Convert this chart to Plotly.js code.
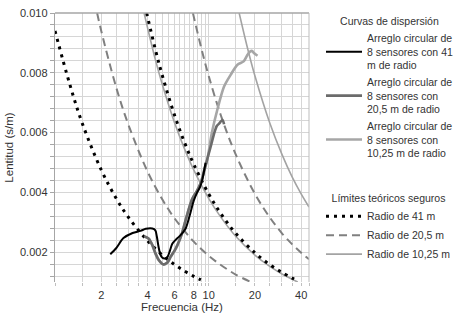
<!DOCTYPE html>
<html>
<head>
<meta charset="utf-8">
<script src="https://cdn.plot.ly/plotly-3.0.1.min.js"></script>
<style>html,body{margin:0;padding:0;background:#fff;}#chart{width:469px;height:318px;}</style>
</head>
<body>
<div id="chart"></div>
<script>
// Measured dispersion curves
const f41 = [2.29, 2.5, 2.79, 3.2, 3.6, 3.9, 4.3, 4.5, 4.6, 4.72, 4.85, 5.0, 5.2, 5.4, 5.6, 5.8, 6.1, 6.4, 6.8, 7.1, 7.6, 8.0, 8.4, 8.8, 9.1, 9.55];
const s41 = [0.00193, 0.00213, 0.00247, 0.00264, 0.00271, 0.00278, 0.00279, 0.00273, 0.00252, 0.00218, 0.00192, 0.00181, 0.00179, 0.00184, 0.00205, 0.00228, 0.00241, 0.00251, 0.00266, 0.0028, 0.0033, 0.00372, 0.00398, 0.00418, 0.00443, 0.00499];

const f205 = [3.8, 4.05, 4.3, 4.5, 4.75, 5.1, 5.4, 5.65, 6.0, 6.25, 6.7, 7.2, 7.8, 8.4, 8.9, 9.4, 9.9, 10.4, 10.9, 11.3, 11.7, 12.3, 12.6];
const s205 = [0.00253, 0.00246, 0.00224, 0.00197, 0.00173, 0.00159, 0.00166, 0.00184, 0.00205, 0.00223, 0.00262, 0.0032, 0.00377, 0.00405, 0.00432, 0.00475, 0.0052, 0.0056, 0.006, 0.00622, 0.0063, 0.00642, 0.00628];

const f1025 = [3.9, 4.1, 4.3, 4.5, 4.75, 5.1, 5.4, 5.65, 6.0, 6.3, 6.7, 7.2, 7.8, 8.4, 8.9, 9.4, 9.8, 10.5, 11.4, 12.6, 13.9, 15.4, 16.9, 17.9, 18.6, 19.2, 19.7, 20.8];
const s1025 = [0.0025, 0.00244, 0.00222, 0.00195, 0.00172, 0.00158, 0.00165, 0.00183, 0.00204, 0.00225, 0.00262, 0.0032, 0.00377, 0.00405, 0.00432, 0.0048, 0.0051, 0.006, 0.00677, 0.00754, 0.00793, 0.00827, 0.00838, 0.0086, 0.00871, 0.00873, 0.00866, 0.00857];

// Theoretical limits (two branches each, separated by null)
const fLim41 = [1.0, 1.25, 1.5, 2, 2.5, 3, 4, 5, 6, 7, 8, 8.9, null, 3.95, 4.5, 5, 6, 7, 8, 10, 12, 15, 20, 25, 30, 36];
const sLim41 = [0.0094, 0.0076, 0.00633, 0.00475, 0.0038, 0.00317, 0.00238, 0.0019, 0.00158, 0.00136, 0.00119, 0.00107, null, 0.010, 0.00878, 0.0079, 0.00658, 0.00564, 0.00494, 0.00395, 0.00329, 0.00263, 0.00198, 0.00158, 0.00132, 0.0011];

const fLim205 = [1.88, 2, 2.5, 3, 4, 5, 6, 8, 10, 12, 15, 18.8, null, 7.9, 9, 10, 12, 15, 20, 25, 30, 35, 40, 45];
const sLim205 = [0.010, 0.0094, 0.00752, 0.00627, 0.0047, 0.00376, 0.00313, 0.00235, 0.00188, 0.00157, 0.00125, 0.001, null, 0.010, 0.00878, 0.0079, 0.00658, 0.00527, 0.00395, 0.00316, 0.00263, 0.00226, 0.00198, 0.00176];

const fLim1025 = [3.8, 4.5, 5, 6, 7, 8, 10, 12, 15, 20, 25, 30, 38, null, 15.8, 18, 20, 25, 30, 35, 40, 45];
const sLim1025 = [0.010, 0.00844, 0.0076, 0.00633, 0.00543, 0.00475, 0.0038, 0.00317, 0.00253, 0.0019, 0.00152, 0.00127, 0.001, null, 0.010, 0.00878, 0.0079, 0.00632, 0.00527, 0.00451, 0.00395, 0.00351];

// Axis ticks
const xTickVals = [1, 1.5, 2, 2.5, 3, 3.5, 4, 4.5, 5, 5.5, 6, 6.5, 7, 7.5, 8, 8.5, 9, 9.5, 10, 15, 20, 25, 30, 35, 40, 45];
const xTickText = ['', '', '2', '', '', '', '4', '', '', '', '6', '', '', '', '8', '', '', '', '10', '', '20', '', '', '', '40', ''];
const yTickVals = [0.0012, 0.0016, 0.002, 0.0024, 0.0028, 0.0032, 0.0036, 0.004, 0.0044, 0.0048, 0.0052, 0.0056, 0.006, 0.0064, 0.0068, 0.0072, 0.0076, 0.008, 0.0084, 0.0088, 0.0092, 0.0096, 0.010];
const yTickText = ['', '', '0.002', '', '', '', '', '0.004', '', '', '', '', '0.006', '', '', '', '', '0.008', '', '', '', '', '0.010'];

const names1 = ['Arreglo circular de<br>8 sensores con 41<br>m de radio', 'Arreglo circular de<br>8 sensores con<br>20,5 m de radio', 'Arreglo circular de<br>8 sensores con<br>10,25 m de radio'];
const names2 = ['Radio de 41 m', 'Radio de 20,5 m', 'Radio de 10,25 m'];

const FONT = 'Liberation Sans, Arial, sans-serif';
const LFS = 10.5;

const traces = [
  {x: fLim1025, y: sLim1025, name: names2[2], legend: 'legend2', legendrank: 3, mode: 'lines', line: {color: '#a3a3a3', width: 1.6, shape: 'spline'}, connectgaps: false},
  {x: fLim205, y: sLim205, name: names2[1], legend: 'legend2', legendrank: 2, mode: 'lines', line: {color: '#808080', width: 2, dash: '8px,5px', shape: 'spline'}, connectgaps: false},
  {x: fLim41, y: sLim41, name: names2[0], legend: 'legend2', legendrank: 1, mode: 'lines', line: {color: '#000000', width: 3, dash: '3px,5px', shape: 'spline'}, connectgaps: false},
  {x: f1025, y: s1025, name: names1[2], legend: 'legend', legendrank: 3, mode: 'lines', line: {color: '#a6a6a6', width: 2.6, shape: 'spline', smoothing: 0.8}},
  {x: f205, y: s205, name: names1[1], legend: 'legend', legendrank: 2, mode: 'lines', line: {color: '#6b6b6b', width: 2.6, shape: 'spline', smoothing: 0.8}},
  {x: f41, y: s41, name: names1[0], legend: 'legend', legendrank: 1, mode: 'lines', line: {color: '#000000', width: 2, shape: 'spline', smoothing: 0.8}}
];

const layout = {
  width: 469, height: 318,
  margin: {l: 55, r: 160, t: 13, b: 36},
  paper_bgcolor: '#ffffff', plot_bgcolor: '#ffffff',
  font: {family: FONT, size: 11, color: '#333333'},
  xaxis: {
    type: 'log', range: [0, Math.log10(45)],
    tickmode: 'array', tickvals: xTickVals, ticktext: xTickText,
    showgrid: true, gridcolor: '#d6d6d6', gridwidth: 1,
    ticks: 'outside', ticklen: 3, tickcolor: '#bfbfbf',
    showline: false, zeroline: false,
    tickfont: {family: FONT, size: 11, color: '#333333'},
    title: {text: 'Frecuencia (Hz)', font: {family: FONT, size: 11.5, color: '#333333'}, standoff: 0}
  },
  yaxis: {
    range: [0.001, 0.010],
    tickmode: 'array', tickvals: yTickVals, ticktext: yTickText,
    showgrid: true, gridcolor: '#d6d6d6', gridwidth: 1,
    ticks: 'outside', ticklen: 4, tickcolor: '#a6a6a6',
    showline: true, linecolor: '#a6a6a6', linewidth: 1.3, zeroline: false,
    tickfont: {family: FONT, size: 11, color: '#333333'},
    title: {text: 'Lentitud (s/m)', font: {family: FONT, size: 11.5, color: '#333333'}, standoff: 4}
  },
  showlegend: true,
  legend: {
    xref: 'container', yref: 'container', x: 321/469, y: 1 - 11/318, xanchor: 'left', yanchor: 'top',
    font: {family: FONT, size: LFS, color: '#333333'},
    title: {text: 'Curvas de dispersión', side: 'top center', font: {family: FONT, size: LFS, color: '#333333'}},
    bgcolor: 'rgba(0,0,0,0)', borderwidth: 0, itemwidth: 36, tracegroupgap: 0
  },
  legend2: {
    xref: 'container', yref: 'container', x: 321/469, y: 1 - 188/318, xanchor: 'left', yanchor: 'top',
    font: {family: FONT, size: LFS, color: '#333333'},
    title: {text: 'Límites teóricos seguros', side: 'top center', font: {family: FONT, size: LFS, color: '#333333'}},
    bgcolor: 'rgba(0,0,0,0)', borderwidth: 0, itemwidth: 36, tracegroupgap: 0
  },
  shapes: [
    {type: 'line', xref: 'paper', yref: 'paper', x0: 0, x1: 1, y0: 1, y1: 1, line: {color: '#a6a6a6', width: 1.3}},
    {type: 'line', xref: 'paper', yref: 'paper', x0: 1, x1: 1, y0: 0, y1: 1, line: {color: '#bdbdbd', width: 1}}
  ]
};

Plotly.newPlot('chart', traces, layout, {staticPlot: true, displayModeBar: false});
</script>
</body>
</html>
